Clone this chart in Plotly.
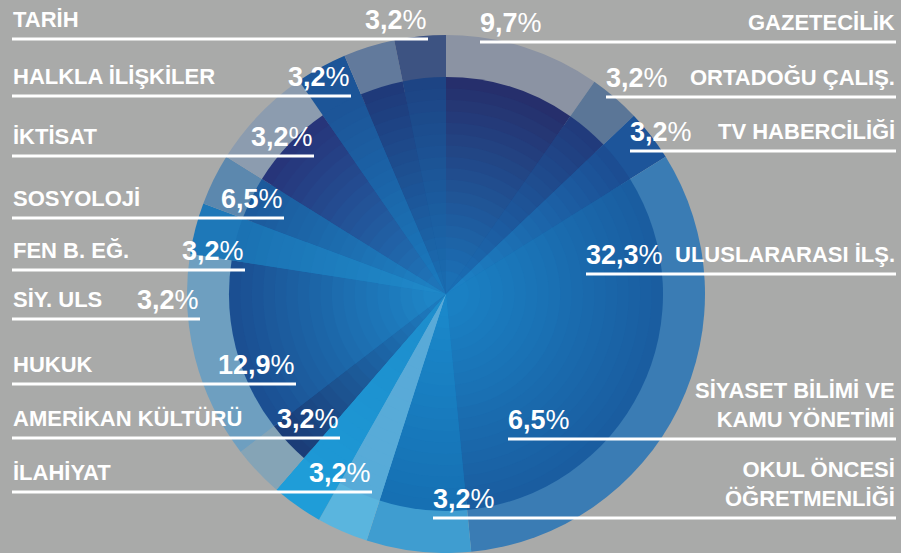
'''
    Pie chart of departments (blue rings on gray background).
'''
import plotly.graph_objects as go

W, H = 901, 553

# data, clockwise from 12 o'clock
departments = ['GAZETECİLİK', 'ORTADOĞU ÇALIŞ.', 'TV HABERCİLİĞİ', 'ULUSLARARASI İLŞ.',
               'SİYASET BİLİMİ VE<br>KAMU YÖNETİMİ', 'OKUL ÖNCESİ<br>ÖĞRETMENLİĞİ',
               'İLAHİYAT', 'AMERİKAN KÜLTÜRÜ', 'HUKUK', 'SİY. ULS', 'FEN B. EĞ.',
               'SOSYOLOJİ', 'İKTİSAT', 'HALKLA İLİŞKİLER', 'TARİH']
shares = [9.7, 3.2, 3.2, 32.3, 6.5, 3.2, 3.2, 3.2, 12.9, 3.2, 3.2, 6.5, 3.2, 3.2, 3.2]

# colours per slice: outer ring, inner edge, inner centre
ring_colors = ['#8b93a3', '#5b7697', '#1d559a', '#3a7cb4', '#3f9dd0', '#5ab5de', '#1f9dd8',
               '#85a4b6', '#6e9fc0', '#1e78b8', '#5c88ae', '#8c9caf', '#1c5598', '#627a9c', '#3d5382']
edge_colors = ['#262f6c', '#213b7c', '#1c4d92', '#1a5da0', '#1670b3', '#57abd8', '#1d98d5',
               '#1b3d78', '#1b4f92', '#1b72b3', '#1c5a9c', '#27357a', '#1c5598', '#1f3a7a', '#1d4484']
center_colors = ['#1b6fb4', '#1a6db3', '#1c80c4', '#1a80c3', '#1a88ca', '#5aaad8', '#1d8dcc',
                 '#1d7abd', '#1e85c6', '#1f88c8', '#1d80c2', '#1e74b8', '#1a78bc', '#1a6cb0', '#1a6aae']

# label layout (pixels): side, underline y, inner end of underline
label_side = ['r', 'r', 'r', 'r', 'r', 'r', 'l', 'l', 'l', 'l', 'l', 'l', 'l', 'l', 'l']
label_line_y = [42, 97, 151, 274, 439, 518, 492, 438, 384, 319, 270, 218, 156, 96, 39]
label_line_x = [480, 606, 630, 586, 508, 433, 372, 340, 296, 200, 245, 284, 314, 351, 428]

CX, CY, R, R_IN = 446, 294, 259, 217
FONT = 'Liberation Sans, Arial, sans-serif'


def mix(c1, c2, t):
    a = [int(c1[i:i + 2], 16) for i in (1, 3, 5)]
    b = [int(c2[i:i + 2], 16) for i in (1, 3, 5)]
    return 'rgb({},{},{})'.format(*[round(a[i] + (b[i] - a[i]) * t) for i in range(3)])


def pie_layer(r, colors):
    return go.Pie(values=shares, labels=[d.replace('<br>', ' ') for d in departments],
                  sort=False, direction='clockwise', rotation=0,
                  marker=dict(colors=colors, line=dict(width=0)),
                  textinfo='none', hoverinfo='label+percent', showlegend=False,
                  domain=dict(x=[(CX - r) / W, (CX + r) / W],
                              y=[(H - CY - r) / H, (H - CY + r) / H]))


fig = go.Figure()
fig.add_trace(pie_layer(R, ring_colors))

# stepped radial gradient for the inner disc
n_layers = 18
for k in range(n_layers):
    t = k / (n_layers - 1)
    r = R_IN * (1 - k / (n_layers + 1))
    fig.add_trace(pie_layer(r, [mix(e, c, t) for e, c in zip(edge_colors, center_colors)]))

shapes = []
annotations = []
for name, val, side, ly, lx in zip(departments, shares, label_side, label_line_y, label_line_x):
    pct = '<b>' + f'{val:.1f}'.replace('.', ',') + '</b>%'
    x0, x1 = (12, lx) if side == 'l' else (lx, 896)
    shapes.append(dict(type='line', xref='paper', yref='paper',
                       x0=x0 / W, x1=x1 / W, y0=1 - ly / H, y1=1 - ly / H,
                       line=dict(color='white', width=3)))
    annotations.append(dict(text='<b>' + name + '</b>', showarrow=False,
                            xref='paper', yref='paper',
                            x=(11 if side == 'l' else 897) / W, y=1 - (ly - 5) / H,
                            xanchor='left' if side == 'l' else 'right', yanchor='bottom',
                            align='left' if side == 'l' else 'right',
                            font=dict(family=FONT, size=22, color='white')))
    annotations.append(dict(text=pct, showarrow=False, xref='paper', yref='paper',
                            x=(lx + 1 if side == 'l' else lx - 2) / W, y=1 - (ly - 2) / H,
                            xanchor='right' if side == 'l' else 'left', yanchor='bottom',
                            font=dict(family=FONT, size=27, color='white')))

fig.update_layout(width=W, height=H, margin=dict(l=0, r=0, t=0, b=0),
                  paper_bgcolor='#a9aaa9', plot_bgcolor='#a9aaa9',
                  shapes=shapes, annotations=annotations)

# page body has a default 8px margin; drop it so the figure fills the window
fig.write_html('out.html', config={'displayModeBar': False},
               post_script="document.body.style.margin='0';document.body.style.overflow='hidden';")
